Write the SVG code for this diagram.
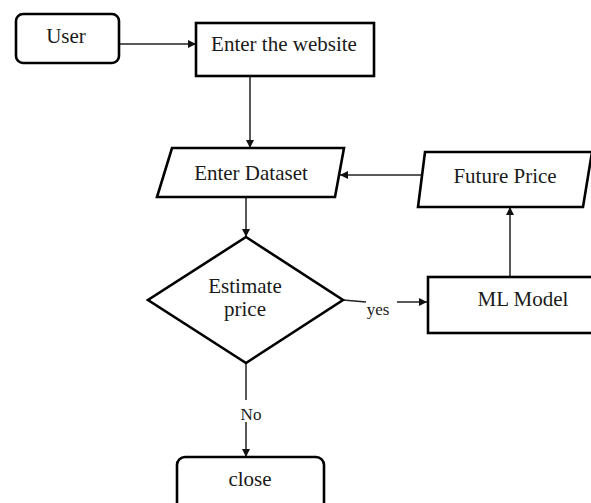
<svg xmlns="http://www.w3.org/2000/svg" width="591" height="503" viewBox="0 0 591 503">
<defs>
<marker id="arr" viewBox="0 0 10 10" refX="10" refY="5" markerWidth="8" markerHeight="8" markerUnits="userSpaceOnUse" orient="auto">
<path d="M0,0 L10,5 L0,10 z" fill="#111"/>
</marker>
<style>
.n{fill:#fff;stroke:#000;stroke-width:2.6;stroke-linejoin:miter}
.t{font-family:"Liberation Serif","Times New Roman",serif;font-size:21px;fill:#1a1a1a;text-anchor:middle}
.s{font-size:17px}
.c{fill:none;stroke:#222;stroke-width:1.5}
</style>
</defs>
<rect width="591" height="503" fill="#fff"/>
<g id="connectors">
<line class="c" x1="119" y1="44" x2="196" y2="44" marker-end="url(#arr)"/>
<line class="c" x1="250" y1="76" x2="250" y2="148" marker-end="url(#arr)"/>
<line class="c" x1="423" y1="175" x2="340" y2="175" marker-end="url(#arr)"/>
<line class="c" x1="246" y1="197" x2="246" y2="237" marker-end="url(#arr)"/>
<polyline class="c" points="343,300 366,302"/>
<line class="c" x1="397" y1="302" x2="427" y2="302" marker-end="url(#arr)"/>
<text class="t s" x="378" y="315">yes</text>
<line class="c" x1="510" y1="277" x2="510" y2="207" marker-end="url(#arr)"/>
<line class="c" x1="246" y1="363" x2="246" y2="400"/>
<line class="c" x1="246" y1="422" x2="246" y2="457" marker-end="url(#arr)"/>
<text class="t s" x="251" y="420">No</text>
</g>
<g id="user">
<rect class="n" x="16" y="14" width="103" height="49" rx="7"/>
<text class="t" x="66" y="43">User</text>
</g>
<g id="website">
<rect class="n" x="196" y="23" width="178" height="53" stroke-width="3"/>
<text class="t" x="284" y="51">Enter the website</text>
</g>
<g id="dataset">
<polygon class="n" points="172,148 344,148 335,197 157,197"/>
<text class="t" x="251" y="180">Enter Dataset</text>
</g>
<g id="future">
<polygon class="n" points="425,152 592,152 583,207 418,207"/>
<text class="t" x="505" y="183">Future Price</text>
</g>
<g id="estimate">
<polygon class="n" points="246,237 343,300 246,363 148,300"/>
<text class="t" x="245" y="293">Estimate</text>
<text class="t" x="245" y="316">price</text>
</g>
<g id="ml">
<rect class="n" x="428" y="277" width="170" height="56"/>
<text class="t" x="523" y="306">ML Model</text>
</g>
<g id="close">
<rect class="n" x="177" y="457" width="147" height="60" rx="8"/>
<text class="t" x="250" y="486">close</text>
</g>
</svg>
